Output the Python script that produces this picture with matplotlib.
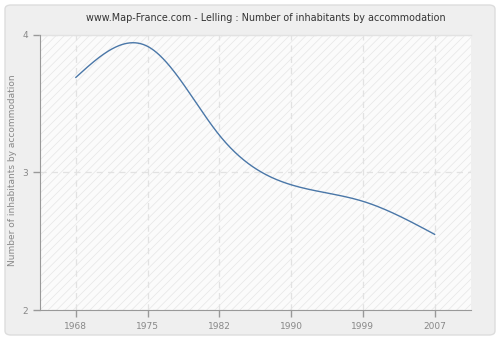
import numpy as np
import matplotlib
matplotlib.use("Agg")
import matplotlib.pyplot as plt
from matplotlib.patches import FancyBboxPatch, Rectangle

years = ["1968", "1975", "1982", "1990", "1999", "2007"]
values = [3.69, 3.915, 3.27, 2.91, 2.79, 2.55]
y_ticks = [2, 3, 4]

TITLE = "www.Map-France.com - Lelling : Number of inhabitants by accommodation"
YLABEL = "Number of inhabitants by accommodation"


def natural_spline(x, y, n=400):
    """Natural cubic spline through the points, for a smooth line."""
    x = np.asarray(x, float)
    y = np.asarray(y, float)
    k = len(x)
    h = np.diff(x)
    A = np.zeros((k, k))
    b = np.zeros(k)
    A[0, 0] = A[-1, -1] = 1.0
    for i in range(1, k - 1):
        A[i, i - 1] = h[i - 1]
        A[i, i] = 2 * (h[i - 1] + h[i])
        A[i, i + 1] = h[i]
        b[i] = 3 * ((y[i + 1] - y[i]) / h[i] - (y[i] - y[i - 1]) / h[i - 1])
    c = np.linalg.solve(A, b)
    xs = np.linspace(x[0], x[-1], n)
    ys = np.empty_like(xs)
    for j, xv in enumerate(xs):
        i = min(np.searchsorted(x, xv, side="right") - 1, k - 2)
        dx = xv - x[i]
        bi = (y[i + 1] - y[i]) / h[i] - h[i] * (2 * c[i] + c[i + 1]) / 3
        di = (c[i + 1] - c[i]) / (3 * h[i])
        ys[j] = y[i] + bi * dx + c[i] * dx ** 2 + di * dx ** 3
    return xs, ys


plt.rcParams["hatch.linewidth"] = 0.5
plt.rcParams["hatch.color"] = "#e6e6e6"

fig = plt.figure(figsize=(5, 3.4), dpi=100)
fig.patch.set_facecolor("white")
box = FancyBboxPatch((5 / 500, 5 / 340), 490 / 500, 330 / 340,
                     boxstyle="round,pad=0,rounding_size=0.012",
                     transform=fig.transFigure, facecolor="#efefef",
                     edgecolor="#dddddd", linewidth=1, zorder=-5)
fig.patches.append(box)

ax = fig.add_axes([0.08, 0.088, 0.861, 0.81])
ax.set_facecolor("none")
ax.add_patch(Rectangle((0, 0), 1, 1, transform=ax.transAxes, facecolor="#fbfbfb",
                       edgecolor="#e6e6e6", hatch="////", linewidth=0, zorder=0))

pos = np.arange(len(years))
xs, ys = natural_spline(pos, values)
ax.plot(xs, ys, color="#4a77a8", linewidth=1, zorder=3)

ax.set_xlim(-0.5, len(years) - 0.5)
ax.set_ylim(2, 4)
ax.set_xticks(pos)
ax.set_xticklabels(years)
ax.set_yticks(y_ticks)
ax.grid(True, color="#e2e2e2", linestyle=(0, (5, 4)), linewidth=0.9)

for s in ["top", "right"]:
    ax.spines[s].set_visible(False)
ax.plot([0, 1], [1, 1], transform=ax.transAxes, color="#e2e2e2", linewidth=1, clip_on=False)
for s in ["left", "bottom"]:
    ax.spines[s].set_color("#999999")
ax.tick_params(colors="#999999", labelcolor="#888888", labelsize=6.5, length=5, width=1)

fig.text(266 / 500, 1 - 18 / 340, TITLE, ha="center", va="center", fontsize=6.9, color="#333333")
fig.text(13 / 500, 170 / 340, YLABEL, ha="center", va="center", rotation=90,
         fontsize=6.5, color="#888888")

fig.savefig("out.png", dpi=100, facecolor=fig.get_facecolor())
